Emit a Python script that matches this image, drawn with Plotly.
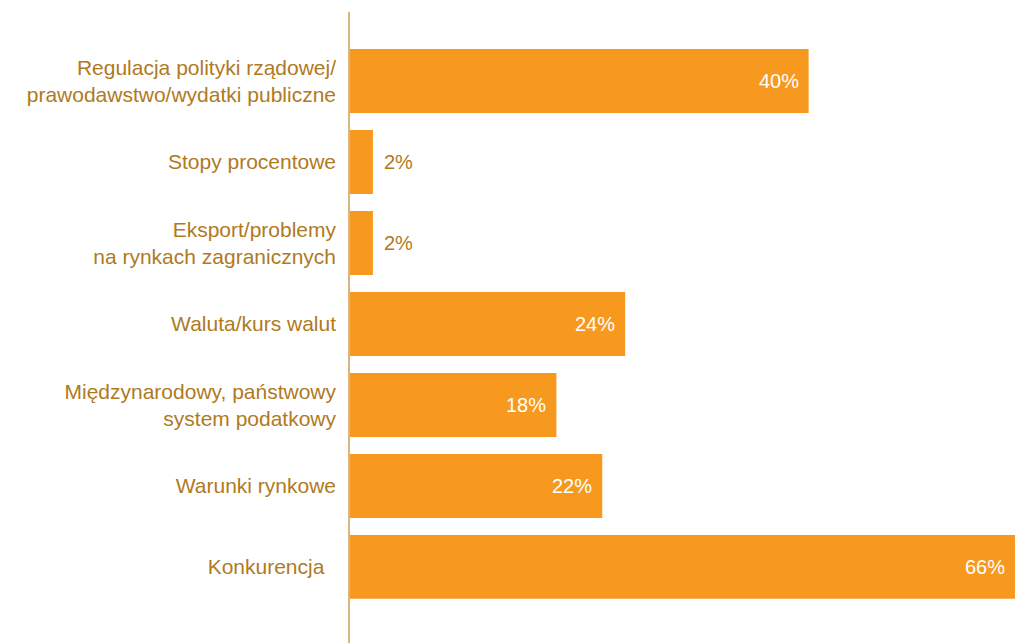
import plotly.graph_objects as go

# Survey factors, listed top to bottom, with the share of respondents naming each
categories = [
    "Regulacja polityki rządowej/<br>prawodawstwo/wydatki publiczne",
    "Stopy procentowe",
    "Eksport/problemy<br>na rynkach zagranicznych",
    "Waluta/kurs walut",
    "Międzynarodowy, państwowy<br>system podatkowy",
    "Warunki rynkowe",
    "Konkurencja\u00a0\u00a0",
]
values = [40, 2, 2, 24, 18, 22, 66]

BAR = "#F7991F"
TEXT = "#B07A1E"
AXIS = "#D9B57F"
FONT = "Liberation Sans, Arial, Helvetica, sans-serif"

X_MAX = 58  # visible part of the value axis; the longest bar runs past it

fig = go.Figure(
    go.Bar(
        x=values,
        y=categories,
        orientation="h",
        marker=dict(color=BAR, line=dict(width=0)),
        hoverinfo="skip",
    )
)

# Value labels: inside (white) for long bars, just past the end for short ones
for cat, v in zip(categories, values):
    inside = v >= 10
    fig.add_annotation(
        x=min(v, X_MAX),
        y=cat,
        text=f"{v}%",
        showarrow=False,
        xanchor="right" if inside else "left",
        xshift=-8 if inside else 9,
        font=dict(family=FONT, size=20, color="white" if inside else TEXT),
    )

fig.update_layout(
    width=1015,
    height=643,
    margin=dict(l=350, r=0, t=12, b=0),
    paper_bgcolor="white",
    plot_bgcolor="white",
    bargap=0.21,
    showlegend=False,
    font=dict(family=FONT, size=21, color=TEXT),
    xaxis=dict(
        range=[0, X_MAX],
        visible=False,
        showgrid=False,
        zeroline=False,
        fixedrange=True,
    ),
    yaxis=dict(
        type="category",
        categoryorder="array",
        categoryarray=categories,
        range=[6.94, -0.852],
        showline=True,
        linecolor=AXIS,
        linewidth=1.5,
        showgrid=False,
        zeroline=False,
        ticks="",
        ticklabelstandoff=8,
        tickfont=dict(family=FONT, size=21, color=TEXT),
        fixedrange=True,
    ),
)

fig.write_html("out.html", config={"displayModeBar": False})
